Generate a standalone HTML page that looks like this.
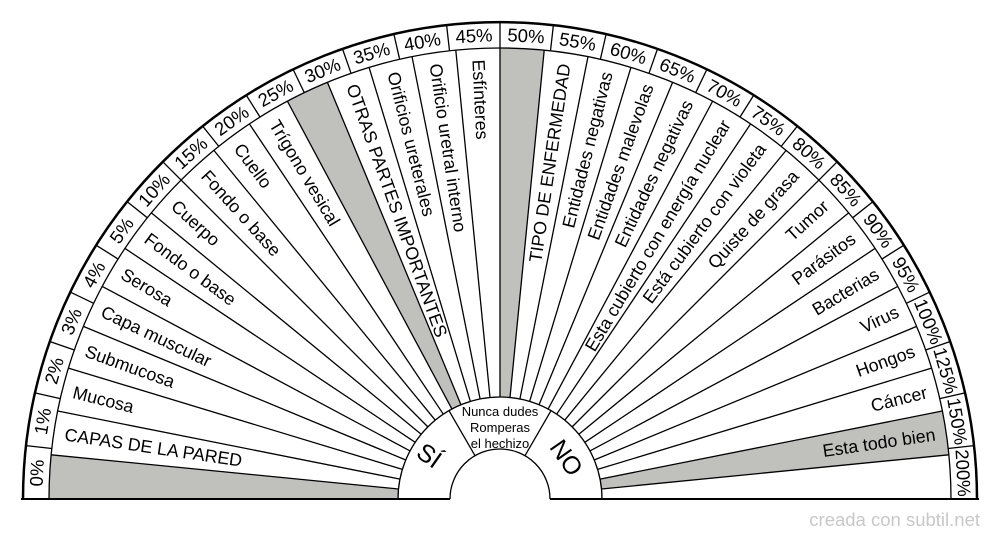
<!DOCTYPE html>
<html><head><meta charset="utf-8"><style>
html,body{margin:0;padding:0;background:#fff;width:1000px;height:540px;overflow:hidden}
svg{display:block}
text{font-family:"Liberation Sans",sans-serif;fill:#000}
.l{font-size:17.8px;dominant-baseline:central}
.r{font-size:17.8px;dominant-baseline:central;text-anchor:end}
.p{font-size:18.5px;dominant-baseline:central;text-anchor:middle}
</style></head><body>
<svg width="1000" height="540" viewBox="0 0 1000 540" xmlns="http://www.w3.org/2000/svg">
<g transform="translate(500,499)">
<g fill="#c0c0bc" stroke="none">
<path d="M-102,0 L-451,0 A451,451 0 0 1 -448.83,-44.21 L-101.51,-10 A102,102 0 0 0 -102,0Z"/>
<path d="M-102,0 L-451,0 A451,451 0 0 1 -448.83,-44.21 L-101.51,-10 A102,102 0 0 0 -102,0Z" transform="rotate(61.875)"/>
<path d="M-102,0 L-451,0 A451,451 0 0 1 -448.83,-44.21 L-101.51,-10 A102,102 0 0 0 -102,0Z" transform="rotate(90)"/>
<path d="M-102,0 L-451,0 A451,451 0 0 1 -448.83,-44.21 L-101.51,-10 A102,102 0 0 0 -102,0Z" transform="rotate(168.75)"/>
</g>
<g stroke="#000" stroke-width="1.3" fill="none">
<line x1="-102" y1="0" x2="-451" y2="0" transform="rotate(5.625)"/>
<line x1="-102" y1="0" x2="-451" y2="0" transform="rotate(11.25)"/>
<line x1="-102" y1="0" x2="-451" y2="0" transform="rotate(16.875)"/>
<line x1="-102" y1="0" x2="-451" y2="0" transform="rotate(22.5)"/>
<line x1="-102" y1="0" x2="-451" y2="0" transform="rotate(28.125)"/>
<line x1="-102" y1="0" x2="-451" y2="0" transform="rotate(33.75)"/>
<line x1="-102" y1="0" x2="-451" y2="0" transform="rotate(39.375)"/>
<line x1="-102" y1="0" x2="-451" y2="0" transform="rotate(45)"/>
<line x1="-102" y1="0" x2="-451" y2="0" transform="rotate(50.625)"/>
<line x1="-102" y1="0" x2="-451" y2="0" transform="rotate(56.25)"/>
<line x1="-102" y1="0" x2="-451" y2="0" transform="rotate(61.875)"/>
<line x1="-102" y1="0" x2="-451" y2="0" transform="rotate(67.5)"/>
<line x1="-102" y1="0" x2="-451" y2="0" transform="rotate(73.125)"/>
<line x1="-102" y1="0" x2="-451" y2="0" transform="rotate(78.75)"/>
<line x1="-102" y1="0" x2="-451" y2="0" transform="rotate(84.375)"/>
<line x1="-102" y1="0" x2="-451" y2="0" transform="rotate(90)"/>
<line x1="-102" y1="0" x2="-451" y2="0" transform="rotate(95.625)"/>
<line x1="-102" y1="0" x2="-451" y2="0" transform="rotate(101.25)"/>
<line x1="-102" y1="0" x2="-451" y2="0" transform="rotate(106.875)"/>
<line x1="-102" y1="0" x2="-451" y2="0" transform="rotate(112.5)"/>
<line x1="-102" y1="0" x2="-451" y2="0" transform="rotate(118.125)"/>
<line x1="-102" y1="0" x2="-451" y2="0" transform="rotate(123.75)"/>
<line x1="-102" y1="0" x2="-451" y2="0" transform="rotate(129.375)"/>
<line x1="-102" y1="0" x2="-451" y2="0" transform="rotate(135)"/>
<line x1="-102" y1="0" x2="-451" y2="0" transform="rotate(140.625)"/>
<line x1="-102" y1="0" x2="-451" y2="0" transform="rotate(146.25)"/>
<line x1="-102" y1="0" x2="-451" y2="0" transform="rotate(151.875)"/>
<line x1="-102" y1="0" x2="-451" y2="0" transform="rotate(157.5)"/>
<line x1="-102" y1="0" x2="-451" y2="0" transform="rotate(163.125)"/>
<line x1="-102" y1="0" x2="-451" y2="0" transform="rotate(168.75)"/>
<line x1="-102" y1="0" x2="-451" y2="0" transform="rotate(174.375)"/>
<line x1="-451" y1="0" x2="-477" y2="0" transform="rotate(6.4286)"/>
<line x1="-451" y1="0" x2="-477" y2="0" transform="rotate(12.857)"/>
<line x1="-451" y1="0" x2="-477" y2="0" transform="rotate(19.286)"/>
<line x1="-451" y1="0" x2="-477" y2="0" transform="rotate(25.714)"/>
<line x1="-451" y1="0" x2="-477" y2="0" transform="rotate(32.143)"/>
<line x1="-451" y1="0" x2="-477" y2="0" transform="rotate(38.571)"/>
<line x1="-451" y1="0" x2="-477" y2="0" transform="rotate(45)"/>
<line x1="-451" y1="0" x2="-477" y2="0" transform="rotate(51.429)"/>
<line x1="-451" y1="0" x2="-477" y2="0" transform="rotate(57.857)"/>
<line x1="-451" y1="0" x2="-477" y2="0" transform="rotate(64.286)"/>
<line x1="-451" y1="0" x2="-477" y2="0" transform="rotate(70.714)"/>
<line x1="-451" y1="0" x2="-477" y2="0" transform="rotate(77.143)"/>
<line x1="-451" y1="0" x2="-477" y2="0" transform="rotate(83.571)"/>
<line x1="-451" y1="0" x2="-477" y2="0" transform="rotate(90)"/>
<line x1="-451" y1="0" x2="-477" y2="0" transform="rotate(96.429)"/>
<line x1="-451" y1="0" x2="-477" y2="0" transform="rotate(102.857)"/>
<line x1="-451" y1="0" x2="-477" y2="0" transform="rotate(109.286)"/>
<line x1="-451" y1="0" x2="-477" y2="0" transform="rotate(115.714)"/>
<line x1="-451" y1="0" x2="-477" y2="0" transform="rotate(122.143)"/>
<line x1="-451" y1="0" x2="-477" y2="0" transform="rotate(128.571)"/>
<line x1="-451" y1="0" x2="-477" y2="0" transform="rotate(135)"/>
<line x1="-451" y1="0" x2="-477" y2="0" transform="rotate(141.429)"/>
<line x1="-451" y1="0" x2="-477" y2="0" transform="rotate(147.857)"/>
<line x1="-451" y1="0" x2="-477" y2="0" transform="rotate(154.286)"/>
<line x1="-451" y1="0" x2="-477" y2="0" transform="rotate(160.714)"/>
<line x1="-451" y1="0" x2="-477" y2="0" transform="rotate(167.143)"/>
<line x1="-451" y1="0" x2="-477" y2="0" transform="rotate(173.571)"/>
<path d="M-451,0 A451,451 0 0 1 451,0"/>
<path d="M-102,0 A102,102 0 0 1 102,0"/>
<path d="M-50,0 A50,50 0 0 1 50,0"/>
<path d="M-477,0 A477,477 0 0 1 477,0" stroke-width="2.5"/>
<line x1="-50" y1="0" x2="-102" y2="0" transform="rotate(60)"/>
<line x1="-50" y1="0" x2="-102" y2="0" transform="rotate(120)"/>
<line x1="-479" y1="0" x2="-50" y2="0" stroke-width="2"/>
<line x1="50" y1="0" x2="479" y2="0" stroke-width="2"/>
</g>
<g>
<text class="l" x="-440" y="0" transform="rotate(8.4375)">CAPAS DE LA PARED</text>
<text class="l" x="-440" y="0" transform="rotate(14.0625)">Mucosa</text>
<text class="l" x="-440" y="0" transform="rotate(19.6875)">Submucosa</text>
<text class="l" x="-440" y="0" transform="rotate(25.3125)">Capa muscular</text>
<text class="l" x="-440" y="0" transform="rotate(30.9375)">Serosa</text>
<text class="l" x="-440" y="0" transform="rotate(36.5625)">Fondo o base</text>
<text class="l" x="-440" y="0" transform="rotate(42.1875)">Cuerpo</text>
<text class="l" x="-440" y="0" transform="rotate(47.8125)">Fondo o base</text>
<text class="l" x="-440" y="0" transform="rotate(53.4375)">Cuello</text>
<text class="l" x="-440" y="0" transform="rotate(59.0625)">Trígono vesical</text>
<text class="l" x="-440" y="0" transform="rotate(70.3125)">OTRAS PARTES IMPORTANTES</text>
<text class="l" x="-440" y="0" transform="rotate(75.9375)">Orificios ureterales</text>
<text class="l" x="-440" y="0" transform="rotate(81.5625)">Orificio uretral interno</text>
<text class="l" x="-440" y="0" transform="rotate(87.1875)">Esfínteres</text>
<text class="r" x="440" y="0" transform="rotate(278.4375)">TIPO DE ENFERMEDAD</text>
<text class="r" x="440" y="0" transform="rotate(284.0625)">Entidades negativas</text>
<text class="r" x="440" y="0" transform="rotate(289.6875)">Entidades malevolas</text>
<text class="r" x="440" y="0" transform="rotate(295.3125)">Entidades negativas</text>
<text class="r" x="440" y="0" transform="rotate(300.9375)">Esta cubierto con energía nuclear</text>
<text class="r" x="440" y="0" transform="rotate(306.5625)">Está cubierto con violeta</text>
<text class="r" x="440" y="0" transform="rotate(312.1875)">Quiste de grasa</text>
<text class="r" x="440" y="0" transform="rotate(317.8125)">Tumor</text>
<text class="r" x="440" y="0" transform="rotate(323.4375)">Parásitos</text>
<text class="r" x="440" y="0" transform="rotate(329.0625)">Bacterias</text>
<text class="r" x="440" y="0" transform="rotate(334.6875)">Virus</text>
<text class="r" x="440" y="0" transform="rotate(340.3125)">Hongos</text>
<text class="r" x="440" y="0" transform="rotate(345.9375)">Cáncer</text>
<text class="r" x="440" y="0" transform="rotate(351.5625)">Esta todo bien</text>
</g>
<g>
<text class="p" transform="rotate(3.214) translate(-464,0) rotate(-90)">0%</text>
<text class="p" transform="rotate(9.643) translate(-464,0) rotate(-90)">1%</text>
<text class="p" transform="rotate(16.071) translate(-464,0) rotate(-90)">2%</text>
<text class="p" transform="rotate(22.5) translate(-464,0) rotate(-90)">3%</text>
<text class="p" transform="rotate(28.929) translate(-464,0) rotate(-90)">4%</text>
<text class="p" transform="rotate(35.357) translate(-464,0) rotate(-90)">5%</text>
<text class="p" transform="rotate(41.786) translate(-464,0) rotate(-90)">10%</text>
<text class="p" transform="rotate(48.214) translate(-464,0) rotate(-90)">15%</text>
<text class="p" transform="rotate(54.643) translate(-464,0) rotate(-90)">20%</text>
<text class="p" transform="rotate(61.071) translate(-464,0) rotate(-90)">25%</text>
<text class="p" transform="rotate(67.5) translate(-464,0) rotate(-90)">30%</text>
<text class="p" transform="rotate(73.929) translate(-464,0) rotate(-90)">35%</text>
<text class="p" transform="rotate(80.357) translate(-464,0) rotate(-90)">40%</text>
<text class="p" transform="rotate(86.786) translate(-464,0) rotate(-90)">45%</text>
<text class="p" transform="rotate(93.214) translate(-464,0) rotate(-90)">50%</text>
<text class="p" transform="rotate(99.643) translate(-464,0) rotate(-90)">55%</text>
<text class="p" transform="rotate(106.071) translate(-464,0) rotate(-90)">60%</text>
<text class="p" transform="rotate(112.5) translate(-464,0) rotate(-90)">65%</text>
<text class="p" transform="rotate(118.929) translate(-464,0) rotate(-90)">70%</text>
<text class="p" transform="rotate(125.357) translate(-464,0) rotate(-90)">75%</text>
<text class="p" transform="rotate(131.786) translate(-464,0) rotate(-90)">80%</text>
<text class="p" transform="rotate(138.214) translate(-464,0) rotate(-90)">85%</text>
<text class="p" transform="rotate(144.643) translate(-464,0) rotate(-90)">90%</text>
<text class="p" transform="rotate(151.071) translate(-464,0) rotate(-90)">95%</text>
<text class="p" transform="rotate(157.5) translate(-464,0) rotate(-90)">100%</text>
<text class="p" transform="rotate(163.929) translate(-464,0) rotate(-90)">125%</text>
<text class="p" transform="rotate(170.357) translate(-464,0) rotate(-90)">150%</text>
<text class="p" transform="rotate(176.786) translate(-464,0) rotate(-90)">200%</text>
</g>
<text style="font-size:13px;text-anchor:middle" x="0" y="-83">Nunca dudes</text>
<text style="font-size:13px;text-anchor:middle" x="0" y="-67">Romperas</text>
<text style="font-size:13px;text-anchor:middle" x="0" y="-51">el hechizo</text>
</g>
<text style="font-size:25px;text-anchor:middle;dominant-baseline:central" transform="translate(429,456) rotate(35)">SÍ</text>
<text style="font-size:25px;text-anchor:middle;dominant-baseline:central" transform="translate(566,458) rotate(55)">NO</text>
<text x="980" y="526" style="font-size:18.5px;fill:#c8c8c8;text-anchor:end">creada con subtil.net</text>
</svg>
</body></html>
